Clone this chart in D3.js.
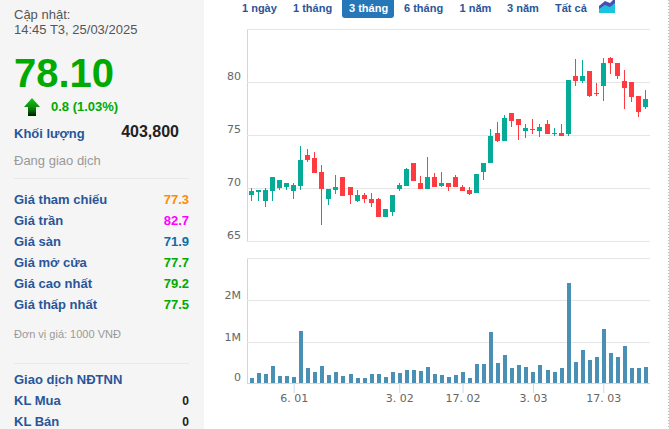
<!DOCTYPE html>
<html>
<head>
<meta charset="utf-8">
<script src="https://cdn.jsdelivr.net/npm/d3@7/dist/d3.min.js"></script>
<style>
  html, body { margin: 0; padding: 0; background: #fff; overflow: hidden; }
  svg text { font-family: "Liberation Sans", Arial, sans-serif; }
  .axis text { font-family: "DejaVu Sans", sans-serif; font-size: 11px; fill: #666; }
</style>
</head>
<body>
<div id="chart"></div>
<script>
// prices, one entry per session
var opens = [69.3,69.65,68.75,69.75,70,70.05,69.7,70.2,73.15,72.85,71.55,69,69.85,71,70.05,68.8,69.3,69,69,67.3,67.77,69.95,70.2,72.4,70.5,69.95,71.05,70.2,70.5,71,70.1,69.85,69.55,71.55,72.4,75.15,74.45,77.1,76.55,75.4,75.6,75.4,76.05,75.05,75.2,75.05,80.6,80.1,81.05,79,79.65,82.3,81.8,80.1,80,78.7,77.65];
var closes = [69.75,69.85,69.85,71,70.8,70.5,70.3,72.65,72.6,71.45,69.95,69.95,70.05,69.2,69.3,69.3,69,68.6,67.3,68.05,69.37,70.3,71.8,70.7,69.95,71,70.05,70.5,70.05,70.05,69.75,69.45,71.35,72.4,74.95,74.45,76.65,76.35,75.95,75.7,75.5,75.8,75.05,75.2,74.95,80.2,80.1,80.6,78.7,78.9,81.8,81.75,80.6,79.45,78.6,77.2,78.35];
var highs = [70,69.85,70,71,70.8,70.5,70.5,74,73.7,73.35,72.2,69.95,71.25,71,70.05,69.85,69.55,69.55,69.1,68.05,69.37,70.5,71.9,72.4,71.15,72.95,71.45,71.55,70.5,71.25,70.3,70.05,71.35,72.4,75.6,76.25,76.9,77.1,76.55,76,76.55,76.05,76.45,75.7,76.05,80.2,82.2,82.1,81.05,79.95,82.3,82.4,81.8,81.15,80,78.7,79.25];
var lows = [68.8,68.8,68.25,68.75,69.85,69.85,69,69.85,72.5,71.45,66.55,68.35,69.45,69.2,68.45,68.7,68.6,68.25,67.3,67.3,67.4,69.75,70.2,70.7,69.95,69.95,70.05,70.05,69.75,70.05,69.75,69.35,69.55,70.8,72.4,74.35,74.45,75.8,74.55,74.75,75.05,74.85,75.05,74.95,74.95,74.95,79.65,79.95,78.6,78.7,78.25,80.8,80.3,77.5,78.15,76.7,77.5];
var volumes = [150000,270000,250000,440000,200000,200000,170000,1270000,370000,290000,440000,220000,290000,200000,250000,150000,150000,250000,250000,170000,290000,270000,340000,340000,320000,410000,250000,220000,170000,220000,290000,150000,480000,480000,1250000,510000,700000,390000,460000,410000,290000,460000,340000,290000,370000,2410000,530000,820000,580000,650000,1320000,750000,650000,910000,370000,390000,403800];

var priceTicks = [65, 70, 75, 80, 85];
var volumeTicks = [1000000, 2000000, 3000000];
var dateTickIndex = [6, 21, 30, 40, 50];
var dateTickLabels = ['6. 01', '3. 02', '17. 02', '3. 03', '17. 03'];

// side panel
var infoRows = ['Giá tham chiếu', 'Giá trần', 'Giá sàn', 'Giá mở cửa', 'Giá cao nhất', 'Giá thấp nhất'];
var infoValues = ['77.3', '82.7', '71.9', '77.7', '79.2', '77.5'];
var infoColors = ['#ff8c00', '#ff00ff', '#0a6ea8', '#00aa00', '#00aa00', '#00aa00'];
var rangeTabs = ['1 ngày', '1 tháng', '3 tháng', '6 tháng', '1 năm', '3 năm', 'Tất cả'];
var rangeTabX = [242, 293, 349, 404, 459.5, 507, 555];

var width = 669, height = 429,
	left = 247, right = 650,
	blue = '#2a5599', up = '#06ab98', down = '#ff3b40',
	plotFrom = 251.5, plotTo = 645.5;

var svg = d3.select('#chart').append('svg')
	.attr('width', width)
	.attr('height', height)
	.style('display', 'block');

var defs = svg.append('defs');
var arrowGrad = defs.append('linearGradient').attr('id', 'arrowGrad').attr('x1', 0).attr('y1', 0).attr('x2', 0).attr('y2', 1);
arrowGrad.append('stop').attr('offset', '0%').attr('stop-color', '#19c419');
arrowGrad.append('stop').attr('offset', '55%').attr('stop-color', '#0a8a0a');
arrowGrad.append('stop').attr('offset', '100%').attr('stop-color', '#021a02');

// ---- left panel
svg.append('rect').attr('width', 204).attr('height', height).attr('fill', '#f5f5f5');

function label(txt, x, y, size, color, bold, anchor) {
	return svg.append('text')
		.attr('x', x).attr('y', y)
		.attr('font-size', size)
		.attr('font-weight', bold ? 'bold' : 'normal')
		.attr('fill', color)
		.attr('text-anchor', anchor || 'start')
		.text(txt);
}

label('Cập nhật:', 14, 19, 13, '#555');
label('14:45 T3, 25/03/2025', 14, 34, 13, '#555');
label('78.10', 14, 87, 40, '#00aa00', true);
svg.append('path')
	.attr('d', 'M32,98 L40,107 L36,107 L36,116 L28,116 L28,107 L24,107 Z')
	.attr('fill', 'url(#arrowGrad)');
label('0.8 (1.03%)', 51, 111, 13, '#00aa00', true);
label('Khối lượng', 14, 138, 13, blue, true);
label('403,800', 179, 137, 16, '#222', true, 'end');
label('Đang giao dịch', 14, 165, 13, '#999');

svg.selectAll('line.sep')
	.data([178.5, 363.5])
	.enter().append('line')
	.attr('class', 'sep')
	.attr('x1', 14).attr('x2', 189)
	.attr('y1', function(d) { return d; })
	.attr('y2', function(d) { return d; })
	.attr('stroke', '#e8e8e8');

infoRows.forEach(function(name, i) {
	label(name, 14, 204 + i * 21, 13, blue, true);
	label(infoValues[i], 189, 204 + i * 21, 13, infoColors[i], true, 'end');
});

label('Đơn vị giá: 1000 VNĐ', 14, 338, 11, '#999');
label('Giao dịch NĐTNN', 14, 384, 13, blue, true);
label('KL Mua', 14, 405, 13, blue, true);
label('0', 189, 405, 12, '#222', true, 'end');
label('KL Bán', 14, 426, 13, blue, true);
label('0', 189, 426, 12, '#222', true, 'end');

// ---- range tabs
svg.append('rect')
	.attr('x', 342).attr('y', -2)
	.attr('width', 52).attr('height', 20)
	.attr('rx', 3)
	.attr('fill', '#2577b8');

rangeTabs.forEach(function(name, i) {
	label(name, rangeTabX[i], 12, 11, i == 2 ? '#fff' : blue, true);
});

svg.append('path').attr('d', 'M599,13 L599,6 L605,3 L610,5 L615,0 L615,13 Z').attr('fill', '#1cc3de');
svg.append('path').attr('d', 'M599,6 L605,1 L610,3 L615,-2 L615,3 L610,7 L605,5 L599,9 Z').attr('fill', '#4a4fb5');

// dotted right edge
svg.append('line')
	.attr('x1', 668.5).attr('x2', 668.5)
	.attr('y1', 0).attr('y2', height)
	.attr('stroke', '#bbb')
	.attr('stroke-dasharray', '1,2');

// ---- scales
var x = d3.scaleLinear().domain([0, opens.length - 1]).range([plotFrom, plotTo]);
var y = d3.scaleLinear().domain([65, 85]).range([241, 29]);
// the volume baseline sits just above true zero in the picture
var volFloor = 24000;
var v = d3.scaleLinear().domain([volFloor, 3000000]).range([383, 258]);

function gridAxis(sel) {
	sel.select('.domain').attr('stroke', '#ccd6eb');
	sel.selectAll('.tick line').attr('stroke', '#e6e6e6');
	sel.selectAll('.tick text').attr('x', -6).attr('dy', 0);
}

var priceAxis = d3.axisLeft(y)
	.tickValues(priceTicks)
	.tickSize(left - right)
	.tickSizeOuter(0)
	.tickFormat(function(d) { return d == 85 ? '' : d; });

svg.append('g')
	.attr('class', 'axis')
	.attr('transform', 'translate(' + left + ',0)')
	.call(priceAxis)
	.call(gridAxis)
	.selectAll('.tick text').attr('y', -2.5);

var volumeAxis = d3.axisLeft(v)
	.tickValues(volumeTicks)
	.tickSize(left - right)
	.tickSizeOuter(0)
	.tickFormat(function(d) { return d == 3000000 ? '' : (d / 1000000) + 'M'; });

svg.append('g')
	.attr('class', 'axis')
	.attr('transform', 'translate(' + left + ',0)')
	.call(volumeAxis)
	.call(gridAxis)
	.selectAll('.tick text').attr('y', -2);

label('0', left - 6, 381, 11, '#666', false, 'end').style('font-family', '"DejaVu Sans", sans-serif');

var dateAxis = d3.axisBottom(x)
	.tickValues(dateTickIndex)
	.tickSize(10)
	.tickSizeOuter(0)
	.tickFormat(function(d, i) { return dateTickLabels[i]; });

var dateG = svg.append('g')
	.attr('class', 'axis')
	.attr('transform', 'translate(0,383)')
	.call(dateAxis);
dateG.select('.domain').attr('d', 'M' + left + ',0.5H' + right).attr('stroke', '#ccd6eb');
dateG.selectAll('.tick line').attr('stroke', '#ccd6eb');
dateG.selectAll('.tick text').attr('y', 11).attr('dy', '.71em');

// ---- candles
var candles = d3.range(opens.length);
var isUp = function(i) { return closes[i] >= opens[i]; };

svg.selectAll('rect.wick')
	.data(candles)
	.enter().append('rect')
	.attr('class', 'wick')
	.style('shape-rendering', 'crispEdges')
	.attr('x', function(i) { return Math.floor(x(i)); })
	.attr('y', function(i) { return y(highs[i]); })
	.attr('width', 1)
	.attr('height', function(i) { return y(lows[i]) - y(highs[i]); })
	.attr('fill', function(i) { return isUp(i) ? up : down; });

svg.selectAll('rect.body')
	.data(candles)
	.enter().append('rect')
	.attr('class', 'body')
	.style('shape-rendering', 'crispEdges')
	.attr('x', function(i) { return Math.floor(x(i)) - 2; })
	.attr('y', function(i) { return y(Math.max(opens[i], closes[i])); })
	.attr('width', 5)
	.attr('height', function(i) { return Math.max(1, Math.abs(y(opens[i]) - y(closes[i]))); })
	.attr('fill', function(i) { return isUp(i) ? up : down; });

// ---- volume
svg.selectAll('rect.vol')
	.data(candles)
	.enter().append('rect')
	.attr('class', 'vol')
	.style('shape-rendering', 'crispEdges')
	.attr('x', function(i) { return Math.floor(x(i)) - 1; })
	.attr('y', function(i) { return v(volumes[i]); })
	.attr('width', 4)
	.attr('height', function(i) { return v(volFloor) - v(volumes[i]); })
	.attr('fill', '#4a90b4');
</script>
</body>
</html>
